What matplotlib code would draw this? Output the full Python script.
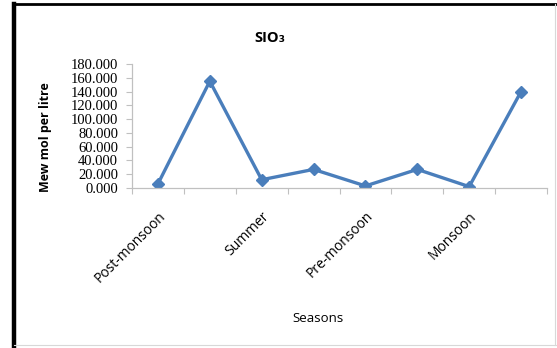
import matplotlib
matplotlib.use('Agg')
from matplotlib import pyplot as plt
from matplotlib.lines import Line2D

# SiO3 concentration per sampling, grouped by season
seasons = ['Post-monsoon', 'Summer', 'Pre-monsoon', 'Monsoon']
sio3 = [6, 155, 12, 27, 3, 27, 2, 140]
yticks = [0, 20, 40, 60, 80, 100, 120, 140, 160, 180]

W, H = 557, 348
fig = plt.figure(figsize=(W / 100, H / 100), dpi=100)
fig.patch.set_facecolor('white')

# frame round the chart
fig.add_artist(Line2D([14 / W, 14 / W], [0, 1 - 4 / H], color='black', lw=3.2, transform=fig.transFigure))
fig.add_artist(Line2D([13 / W, 1], [1 - 4 / H, 1 - 4 / H], color='black', lw=2.0, transform=fig.transFigure))
fig.add_artist(Line2D([555 / W, 555 / W], [3 / H, 1 - 4 / H], color='#d8d8d8', lw=0.8, transform=fig.transFigure))
fig.add_artist(Line2D([14 / W, 1], [3 / H, 3 / H], color='#d8d8d8', lw=0.8, transform=fig.transFigure))

ax = fig.add_axes([132 / W, 1 - 188 / H, 415 / W, 124 / H])

x = list(range(1, len(sio3) + 1))
ax.plot(x, sio3, color='#4a7ebb', lw=2.4, marker='D', markersize=6,
        markerfacecolor='#4a7ebb', markeredgecolor='#4a7ebb')

ax.set_xlim(0.5, len(sio3) + 0.5)
ax.set_ylim(0, 180)

for s in ['top', 'right']:
    ax.spines[s].set_visible(False)
for s in ['left', 'bottom']:
    ax.spines[s].set_color('#c0c0c0')
    ax.spines[s].set_linewidth(0.9)

ax.set_yticks(yticks)
ax.set_yticklabels(['%.3f' % v for v in yticks], family='Liberation Serif', fontsize=10.5)
ax.tick_params(axis='y', direction='out', length=4, color='#c0c0c0', pad=6)

# ticks between categories, labels on every other category
ax.set_xticks([i + 0.5 for i in range(len(sio3) + 1)])
ax.set_xticklabels([])
ax.tick_params(axis='x', which='major', direction='out', length=4, color='#c0c0c0')
ax.set_xticks([1, 3, 5, 7], minor=True)
ax.set_xticklabels(seasons, minor=True, rotation=45, ha='right', va='top',
                   rotation_mode='anchor', family='Open Sans', fontsize=10)
ax.tick_params(axis='x', which='minor', length=0, pad=15)

fig.text(270 / W, 1 - 38 / H, 'SIO₃', ha='center', va='center',
         family=['Open Sans', 'DejaVu Sans'], fontsize=10.5, fontweight='bold')
fig.text(46 / W, 1 - 137 / H, 'Mew mol per litre', ha='center', va='center',
         rotation=90, family='Open Sans', fontsize=9, fontweight='bold')
fig.text(318 / W, 1 - 319 / H, 'Seasons', ha='center', va='center',
         family='Open Sans', fontsize=9.5)

plt.savefig('out.png', dpi=100)
